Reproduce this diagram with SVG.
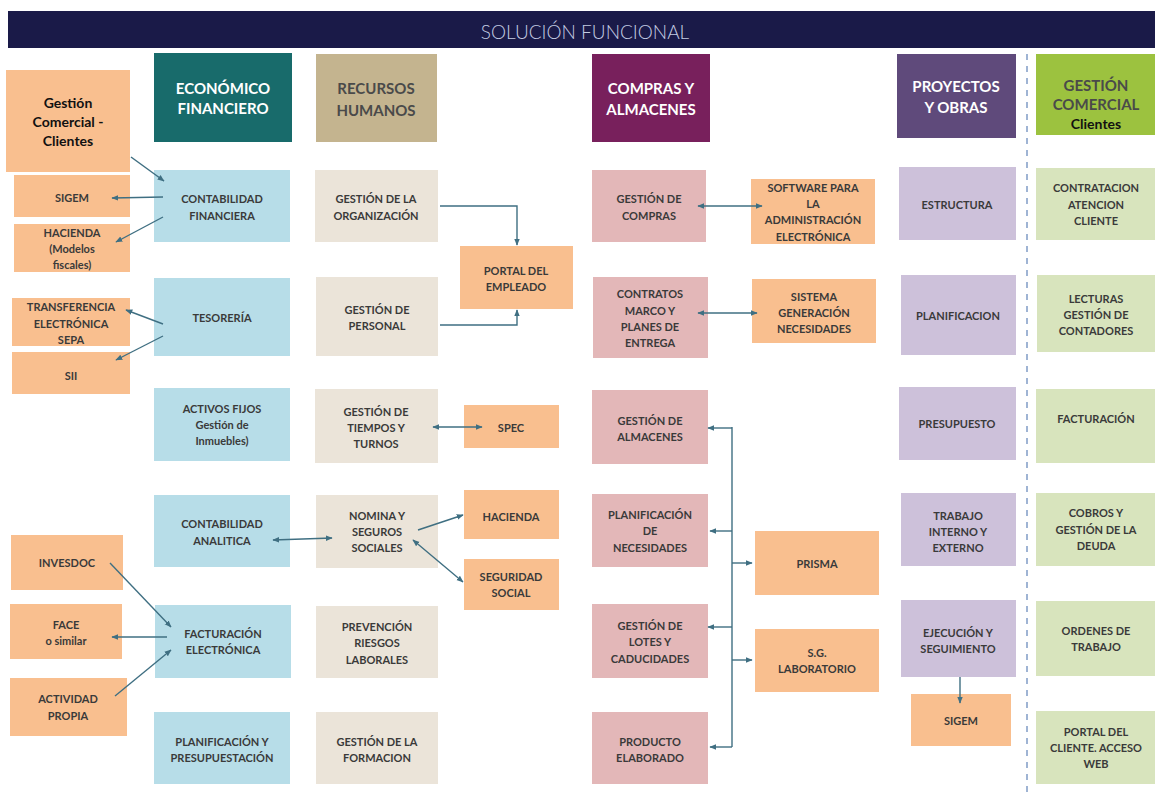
<svg xmlns="http://www.w3.org/2000/svg" width="1155" height="792" viewBox="0 0 1155 792">
<style>
text{font-family:Lato,"Liberation Sans",sans-serif;text-anchor:middle;dominant-baseline:central}
.t{font-size:11px;font-weight:bold;fill:#3a3a3a}
.h{font-size:15px;font-weight:bold;fill:#fff}
.hd{font-size:15px;font-weight:bold;fill:#4a4a4a}
.or{fill:#f9bf8f}
.bl{fill:#b7dde8}
.be{fill:#ebe4d9}
.pk{fill:#e3b7b8}
.lv{fill:#cdc1da}
.gr{fill:#d8e4bd}
.c{stroke:#3f6f82;stroke-width:1.4;fill:none}
</style>
<defs>
<marker id="ah" viewBox="0 0 10 10" refX="9" refY="5" markerWidth="7" markerHeight="7" markerUnits="userSpaceOnUse" orient="auto-start-reverse">
<path d="M0,1 L10,5 L0,9 z" fill="#3f6f82"/>
</marker>
</defs>
<rect width="1155" height="792" fill="#fff"/>
<g id="title">
<rect x="8" y="11" width="1147" height="37" fill="#1a1a48"/>
<text x="585" y="31" style="font-size:19px;font-weight:300;fill:#c3cbe2">SOLUCIÓN FUNCIONAL</text>
</g>
<line x1="1027" y1="54" x2="1027" y2="792" stroke="#9fb4d4" stroke-width="2" stroke-dasharray="6,6"/>

<g id="h-econ"><rect x="154" y="53" width="138" height="89" fill="#186b6b"/><text class="h" x="223" y="88">ECONÓMICO</text><text class="h" x="223" y="108">FINANCIERO</text></g>
<g id="h-rrhh"><rect x="316" y="54" width="121" height="88" fill="#c4b48f"/><text class="hd" x="376" y="88">RECURSOS</text><text class="hd" x="376" y="110">HUMANOS</text></g>
<g id="h-compras"><rect x="592" y="54" width="118" height="88" fill="#78205c"/><text class="h" x="651" y="88">COMPRAS Y</text><text class="h" x="651" y="109">ALMACENES</text></g>
<g id="h-proy"><rect x="897" y="54" width="119" height="84" fill="#5f4a7b"/><text class="h" x="956" y="86">PROYECTOS</text><text class="h" x="956" y="107">Y OBRAS</text></g>
<g id="h-gc"><rect x="1036" y="54" width="119" height="81" fill="#9cc23f"/><text class="hd" x="1096" y="85">GESTIÓN</text><text class="hd" x="1096" y="104">COMERCIAL</text><text x="1096" y="123" style="font-size:14px;font-weight:bold;fill:#111">Clientes</text></g>

<g id="gc-clientes"><rect class="or" x="6" y="70" width="124" height="102"/><text x="68" y="102" style="font-size:14px;font-weight:bold;fill:#111">Gestión</text><text x="68" y="121" style="font-size:14px;font-weight:bold;fill:#111">Comercial -</text><text x="68" y="140" style="font-size:14px;font-weight:bold;fill:#111">Clientes</text></g>
<g id="sigem1"><rect class="or" x="14" y="175" width="116" height="42"/><text class="t" x="72" y="197">SIGEM</text></g>
<g id="hacienda1"><rect class="or" x="14" y="224" width="116" height="48"/><text class="t" x="72" y="232">HACIENDA</text><text class="t" x="72" y="248">(Modelos</text><text class="t" x="72" y="264">fiscales)</text></g>
<g id="transfer"><rect class="or" x="12" y="298" width="118" height="48"/><text class="t" x="71" y="306">TRANSFERENCIA</text><text class="t" x="71" y="323">ELECTRÓNICA</text><text class="t" x="71" y="339">SEPA</text></g>
<g id="sii"><rect class="or" x="12" y="352" width="118" height="42"/><text class="t" x="71" y="375">SII</text></g>
<g id="invesdoc"><rect class="or" x="11" y="535" width="112" height="55"/><text class="t" x="67" y="562">INVESDOC</text></g>
<g id="face"><rect class="or" x="10" y="604" width="112" height="55"/><text class="t" x="66" y="624">FACE</text><text class="t" x="66" y="640">o similar</text></g>
<g id="actividad"><rect class="or" x="10" y="678" width="117" height="58"/><text class="t" x="68" y="698">ACTIVIDAD</text><text class="t" x="68" y="715">PROPIA</text></g>

<g id="cont-fin"><rect class="bl" x="154" y="170" width="136" height="72"/><text class="t" x="222" y="198">CONTABILIDAD</text><text class="t" x="222" y="215">FINANCIERA</text></g>
<g id="tesoreria"><rect class="bl" x="154" y="278" width="136" height="78"/><text class="t" x="222" y="317">TESORERÍA</text></g>
<g id="activos"><rect class="bl" x="154" y="388" width="136" height="73"/><text class="t" x="222" y="408">ACTIVOS FIJOS</text><text class="t" x="222" y="424">Gestión de</text><text class="t" x="222" y="440">Inmuebles)</text></g>
<g id="cont-ana"><rect class="bl" x="154" y="495" width="136" height="72"/><text class="t" x="222" y="523">CONTABILIDAD</text><text class="t" x="222" y="540">ANALITICA</text></g>
<g id="fact-elec"><rect class="bl" x="155" y="605" width="136" height="73"/><text class="t" x="223" y="633">FACTURACIÓN</text><text class="t" x="223" y="649">ELECTRÓNICA</text></g>
<g id="plan-pres"><rect class="bl" x="154" y="712" width="136" height="72"/><text class="t" x="222" y="741">PLANIFICACIÓN Y</text><text class="t" x="222" y="757">PRESUPUESTACIÓN</text></g>

<g id="gest-org"><rect class="be" x="315" y="170" width="123" height="72"/><text class="t" x="376" y="198">GESTIÓN DE LA</text><text class="t" x="376" y="215">ORGANIZACIÓN</text></g>
<g id="gest-pers"><rect class="be" x="316" y="277" width="122" height="79"/><text class="t" x="377" y="309">GESTIÓN DE</text><text class="t" x="377" y="325">PERSONAL</text></g>
<g id="gest-tiempos"><rect class="be" x="315" y="389" width="123" height="74"/><text class="t" x="376" y="411">GESTIÓN DE</text><text class="t" x="376" y="427">TIEMPOS Y</text><text class="t" x="376" y="443">TURNOS</text></g>
<g id="nomina"><rect class="be" x="316" y="495" width="122" height="73"/><text class="t" x="377" y="515">NOMINA Y</text><text class="t" x="377" y="531">SEGUROS</text><text class="t" x="377" y="547">SOCIALES</text></g>
<g id="prevencion"><rect class="be" x="316" y="606" width="122" height="72"/><text class="t" x="377" y="626">PREVENCIÓN</text><text class="t" x="377" y="642">RIESGOS</text><text class="t" x="377" y="659">LABORALES</text></g>
<g id="formacion"><rect class="be" x="316" y="712" width="122" height="72"/><text class="t" x="377" y="741">GESTIÓN DE LA</text><text class="t" x="377" y="757">FORMACION</text></g>

<g id="portal-emp"><rect class="or" x="460" y="246" width="113" height="63"/><text class="t" x="516" y="270">PORTAL DEL</text><text class="t" x="516" y="286">EMPLEADO</text></g>
<g id="spec"><rect class="or" x="464" y="405" width="95" height="43"/><text class="t" x="511" y="427">SPEC</text></g>
<g id="hacienda2"><rect class="or" x="464" y="490" width="95" height="49"/><text class="t" x="511" y="516">HACIENDA</text></g>
<g id="seg-social"><rect class="or" x="464" y="559" width="95" height="51"/><text class="t" x="511" y="576">SEGURIDAD</text><text class="t" x="511" y="592">SOCIAL</text></g>

<g id="gest-compras"><rect class="pk" x="592" y="170" width="114" height="72"/><text class="t" x="649" y="198">GESTIÓN DE</text><text class="t" x="649" y="215">COMPRAS</text></g>
<g id="contratos"><rect class="pk" x="593" y="277" width="115" height="81"/><text class="t" x="650" y="293">CONTRATOS</text><text class="t" x="650" y="310">MARCO Y</text><text class="t" x="650" y="326">PLANES DE</text><text class="t" x="650" y="342">ENTREGA</text></g>
<g id="gest-alm"><rect class="pk" x="592" y="390" width="116" height="74"/><text class="t" x="650" y="420">GESTIÓN DE</text><text class="t" x="650" y="436">ALMACENES</text></g>
<g id="plan-nec"><rect class="pk" x="592" y="494" width="116" height="73"/><text class="t" x="650" y="514">PLANIFICACIÓN</text><text class="t" x="650" y="530">DE</text><text class="t" x="650" y="547">NECESIDADES</text></g>
<g id="lotes"><rect class="pk" x="592" y="604" width="116" height="74"/><text class="t" x="650" y="625">GESTIÓN DE</text><text class="t" x="650" y="641">LOTES Y</text><text class="t" x="650" y="658">CADUCIDADES</text></g>
<g id="producto"><rect class="pk" x="592" y="712" width="116" height="72"/><text class="t" x="650" y="741">PRODUCTO</text><text class="t" x="650" y="757">ELABORADO</text></g>

<g id="software"><rect class="or" x="751" y="179" width="124" height="65"/><text class="t" x="813" y="187">SOFTWARE PARA</text><text class="t" x="813" y="203">LA</text><text class="t" x="813" y="219">ADMINISTRACIÓN</text><text class="t" x="813" y="236">ELECTRÓNICA</text></g>
<g id="sistema"><rect class="or" x="752" y="279" width="124" height="64"/><text class="t" x="814" y="296">SISTEMA</text><text class="t" x="814" y="312">GENERACIÓN</text><text class="t" x="814" y="328">NECESIDADES</text></g>
<g id="prisma"><rect class="or" x="755" y="531" width="124" height="64"/><text class="t" x="817" y="563">PRISMA</text></g>
<g id="sg-lab"><rect class="or" x="755" y="629" width="124" height="63"/><text class="t" x="817" y="652">S.G.</text><text class="t" x="817" y="668">LABORATORIO</text></g>

<g id="estructura"><rect class="lv" x="899" y="167" width="117" height="73"/><text class="t" x="957" y="204">ESTRUCTURA</text></g>
<g id="planificacion"><rect class="lv" x="901" y="275" width="115" height="80"/><text class="t" x="958" y="315">PLANIFICACION</text></g>
<g id="presupuesto"><rect class="lv" x="899" y="387" width="117" height="73"/><text class="t" x="957" y="423">PRESUPUESTO</text></g>
<g id="trabajo"><rect class="lv" x="901" y="493" width="115" height="73"/><text class="t" x="958" y="515">TRABAJO</text><text class="t" x="958" y="531">INTERNO Y</text><text class="t" x="958" y="547">EXTERNO</text></g>
<g id="ejecucion"><rect class="lv" x="901" y="600" width="115" height="77"/><text class="t" x="958" y="632">EJECUCIÓN Y</text><text class="t" x="958" y="648">SEGUIMIENTO</text></g>
<g id="sigem2"><rect class="or" x="911" y="694" width="100" height="52"/><text class="t" x="961" y="720">SIGEM</text></g>

<g id="contratacion"><rect class="gr" x="1036" y="168" width="119" height="72"/><text class="t" x="1096" y="187">CONTRATACION</text><text class="t" x="1096" y="204">ATENCION</text><text class="t" x="1096" y="220">CLIENTE</text></g>
<g id="lecturas"><rect class="gr" x="1037" y="275" width="118" height="77"/><text class="t" x="1096" y="298">LECTURAS</text><text class="t" x="1096" y="314">GESTIÓN DE</text><text class="t" x="1096" y="330">CONTADORES</text></g>
<g id="facturacion"><rect class="gr" x="1036" y="389" width="119" height="74"/><text class="t" x="1096" y="418">FACTURACIÓN</text></g>
<g id="cobros"><rect class="gr" x="1036" y="493" width="119" height="73"/><text class="t" x="1096" y="512">COBROS Y</text><text class="t" x="1096" y="529">GESTIÓN DE LA</text><text class="t" x="1096" y="545">DEUDA</text></g>
<g id="ordenes"><rect class="gr" x="1036" y="601" width="119" height="75"/><text class="t" x="1096" y="630">ORDENES DE</text><text class="t" x="1096" y="646">TRABAJO</text></g>
<g id="portal-cli"><rect class="gr" x="1036" y="711" width="119" height="73"/><text class="t" x="1096" y="731">PORTAL DEL</text><text class="t" x="1096" y="747">CLIENTE. ACCESO</text><text class="t" x="1096" y="763">WEB</text></g>

<g id="connectors" class="c">
<line class="c" x1="131" y1="157" x2="164" y2="181" marker-end="url(#ah)"/>
<line class="c" x1="163" y1="197" x2="112" y2="198" marker-end="url(#ah)"/>
<line class="c" x1="163" y1="217" x2="116" y2="242" marker-end="url(#ah)"/>
<line class="c" x1="163" y1="324" x2="126" y2="310" marker-end="url(#ah)"/>
<line class="c" x1="163" y1="336" x2="116" y2="360" marker-end="url(#ah)"/>
<line class="c" x1="110" y1="563" x2="171" y2="627" marker-end="url(#ah)"/>
<line class="c" x1="167" y1="637" x2="112" y2="637" marker-end="url(#ah)"/>
<line class="c" x1="115" y1="696" x2="171" y2="650" marker-end="url(#ah)"/>
<line class="c" x1="273" y1="540" x2="332" y2="538" marker-start="url(#ah)" marker-end="url(#ah)"/>
<path class="c" d="M440,206 H517 V245" marker-end="url(#ah)"/>
<path class="c" d="M440,325 H517 V310" marker-end="url(#ah)"/>
<line class="c" x1="433" y1="427" x2="482" y2="427" marker-start="url(#ah)" marker-end="url(#ah)"/>
<line class="c" x1="418" y1="530" x2="463" y2="515" marker-end="url(#ah)"/>
<line class="c" x1="413" y1="540" x2="463" y2="582" marker-start="url(#ah)" marker-end="url(#ah)"/>
<line class="c" x1="698" y1="206" x2="762" y2="206" marker-start="url(#ah)" marker-end="url(#ah)"/>
<line class="c" x1="698" y1="313" x2="757" y2="313" marker-start="url(#ah)" marker-end="url(#ah)"/>
<line class="c" x1="732" y1="427" x2="732" y2="747"/>
<line class="c" x1="732" y1="428" x2="708" y2="428" marker-end="url(#ah)"/>
<line class="c" x1="732" y1="531" x2="710" y2="531" marker-end="url(#ah)"/>
<line class="c" x1="732" y1="627" x2="708" y2="627" marker-end="url(#ah)"/>
<line class="c" x1="732" y1="747" x2="710" y2="747" marker-end="url(#ah)"/>
<line class="c" x1="732" y1="563" x2="752" y2="563" marker-end="url(#ah)"/>
<line class="c" x1="732" y1="660" x2="752" y2="660" marker-end="url(#ah)"/>
<line class="c" x1="960" y1="677" x2="960" y2="703" marker-end="url(#ah)"/>
</g>
</svg>
